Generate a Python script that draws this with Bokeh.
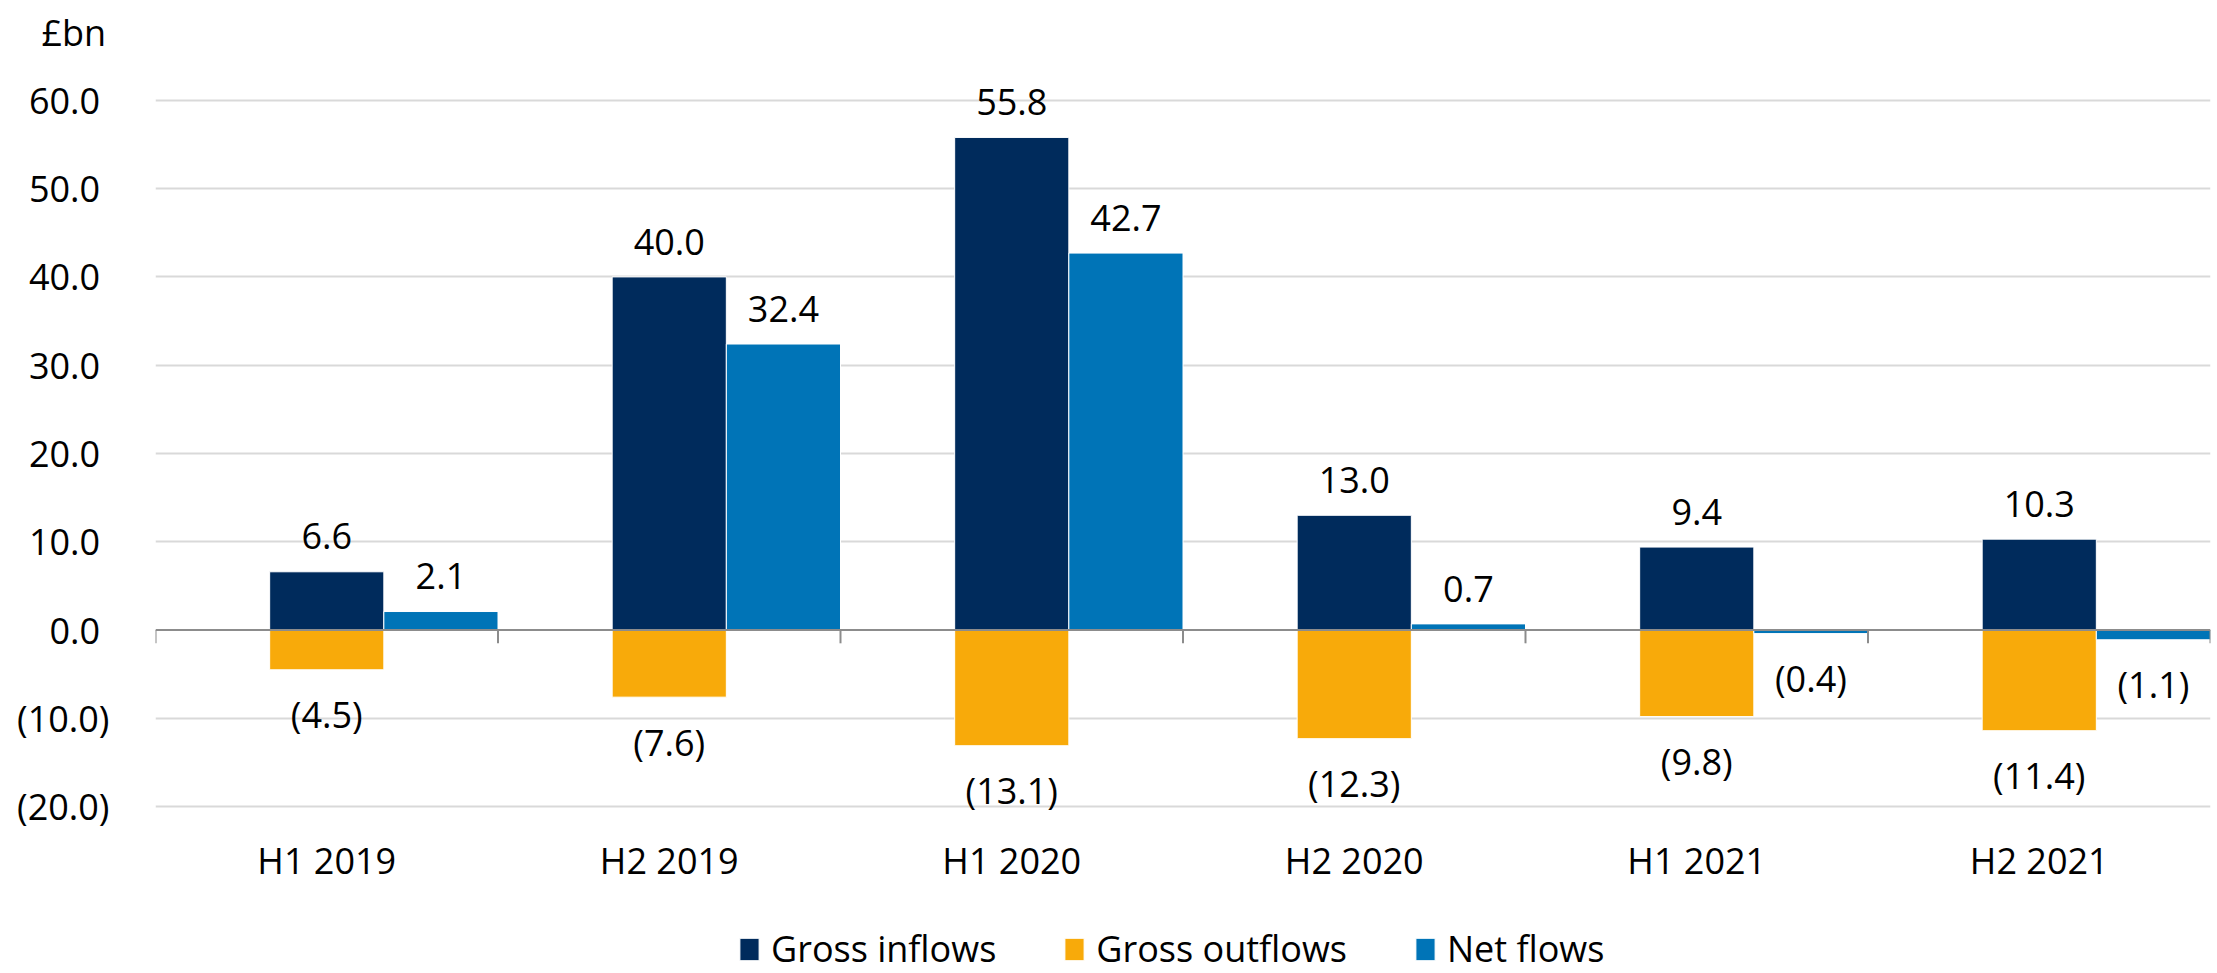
from bokeh.plotting import figure
from bokeh.models import Range1d, FixedTicker, Legend, LegendItem, ColumnDataSource
from bokeh.embed import file_html
from bokeh.resources import INLINE
from bokeh.core.properties import value

# ---- data ----
categories = ["H1 2019", "H2 2019", "H1 2020", "H2 2020", "H1 2021", "H2 2021"]
gross_inflows = [6.6, 40.0, 55.8, 13.0, 9.4, 10.3]
gross_outflows = [-4.5, -7.6, -13.1, -12.3, -9.8, -11.4]
net_flows = [2.1, 32.4, 42.7, 0.7, -0.4, -1.1]
y_ticks = [-20, -10, 0, 10, 20, 30, 40, 50, 60]
unit_label = "£bn"
series_names = ["Gross inflows", "Gross outflows", "Net flows"]

NAVY = "#002B5C"
ORANGE = "#F8AA0A"
BLUE = "#0074B7"
FONT = "Open Sans"
FS = "36px"


def fmt(v):
    return f"({abs(v):.1f})" if v < 0 else f"{v:.1f}"


def tick_fmt(v):
    return f"({abs(v):.1f})" if v < 0 else f"{v:.1f}\u00a0"


n = len(categories)
centers = [i + 0.5 for i in range(n)]
net_x = [i + 5.0 / 6.0 for i in range(n)]
bw = 1.0 / 3.0
y_min = min(y_ticks)

# frame runs to the bottom of the canvas so that category labels and legend
# can sit below the lowest gridline
p = figure(width=2217, height=973, x_range=Range1d(0, n), y_range=Range1d(-38.9, 64.4),
           output_backend="svg", toolbar_location=None,
           min_border_left=155, min_border_right=7, min_border_top=47, min_border_bottom=0)
p.outline_line_color = None
p.background_fill_color = "white"
p.border_fill_color = "white"

# unit label as title
p.title.text = unit_label
p.title.align = "left"
p.title.offset = -114
p.title.text_font = FONT
p.title.text_font_size = FS
p.title.text_font_style = "normal"
p.title.text_color = "black"

# grid
p.xgrid.visible = False
p.ygrid.ticker = FixedTicker(ticks=[t for t in y_ticks if t != 0])
p.ygrid.grid_line_color = "#D9D9D9"
p.ygrid.grid_line_width = 2

# y axis
p.yaxis.ticker = FixedTicker(ticks=y_ticks)
p.yaxis.major_label_overrides = {t: tick_fmt(t) for t in y_ticks}
p.yaxis.axis_line_color = None
p.yaxis.major_tick_line_color = None
p.yaxis.minor_tick_line_color = None
p.yaxis.major_label_standoff = 40
p.yaxis.major_label_text_font = FONT
p.yaxis.major_label_text_font_size = FS
p.yaxis.major_label_text_color = "black"

p.xaxis.visible = False

src = ColumnDataSource(dict(x=centers, nx=net_x, gin=gross_inflows, gout=gross_outflows, net=net_flows))

r_in = p.vbar(x="x", top="gin", bottom=0, width=bw, source=src,
              fill_color=NAVY, line_color="white", line_width=1)
r_out = p.vbar(x="x", top=0, bottom="gout", width=bw, source=src,
               fill_color=ORANGE, line_color="white", line_width=1)
r_net = p.vbar(x="nx", top="net", bottom=0, width=bw, source=src,
               fill_color=BLUE, line_color="white", line_width=1)

# zero axis line and category boundary ticks
p.segment(x0=[0], y0=[0], x1=[n], y1=[0], line_color="#8C8C8C", line_width=2)
bounds = list(range(n + 1))
p.segment(x0=bounds, y0=[0] * len(bounds), x1=bounds, y1=[-1.5] * len(bounds),
          line_color="#8C8C8C", line_width=2)

# data labels
POS_OFF = 4.0
NEG_OFF = 5.1


def label_pos(vals):
    return [v + POS_OFF if v >= 0 else v - NEG_OFF for v in vals]


lx = centers + centers + net_x
ly = label_pos(gross_inflows) + label_pos(gross_outflows) + label_pos(net_flows)
lt = [fmt(v) for v in gross_inflows + gross_outflows + net_flows]
p.text(x=lx, y=ly, text=lt, text_font=value(FONT), text_font_size=FS,
       text_align="center", text_baseline="middle", text_color="black")

# category labels below the lowest gridline
p.text(x=centers, y=[y_min - 6.1] * n, text=categories, text_font=value(FONT), text_font_size=FS,
       text_align="center", text_baseline="middle", text_color="black")

legend = Legend(items=[LegendItem(label=series_names[0], renderers=[r_in]),
                       LegendItem(label=series_names[1], renderers=[r_out]),
                       LegendItem(label=series_names[2], renderers=[r_net])],
                orientation="horizontal", location=(582, 0),
                label_text_font=FONT, label_text_font_size=FS, label_text_color="black",
                glyph_width=24, glyph_height=28, label_standoff=10, spacing=66,
                padding=0, margin=0, border_line_color=None, background_fill_alpha=0)
p.add_layout(legend)

open("out.html", "w").write(file_html(p, INLINE))
